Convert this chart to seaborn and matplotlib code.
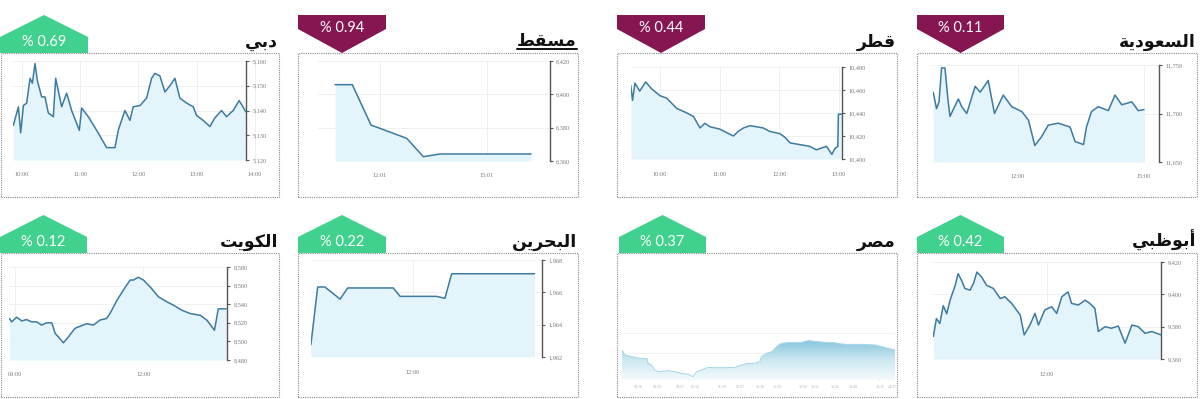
import numpy as np
import matplotlib
matplotlib.use("Agg")
import matplotlib.pyplot as plt
from matplotlib.patches import Polygon, Rectangle
from matplotlib.lines import Line2D
from matplotlib.colors import LinearSegmentedColormap
import seaborn as sns

# ---------------- data (times in decimal hours) ----------------
dubai_t = [9.857, 9.943, 9.983, 10.029, 10.086, 10.143, 10.183, 10.229, 10.269, 10.343, 10.40, 10.457,
           10.543, 10.583, 10.686, 10.771, 10.857, 10.989, 11.029, 11.143, 11.286, 11.457, 11.60, 11.657,
           11.771, 11.857, 11.914, 12.029, 12.143, 12.229, 12.286, 12.371, 12.457, 12.543, 12.629, 12.714,
           12.829, 12.943, 13.0, 13.114, 13.229, 13.314, 13.429, 13.514, 13.629, 13.731, 13.846]
dubai_v = [5134, 5141.5, 5131, 5142, 5143, 5153, 5151, 5159, 5152, 5145.5, 5145.5, 5139,
           5137.5, 5153, 5141.5, 5147, 5140, 5132, 5141, 5137.5, 5132, 5125, 5125, 5132,
           5140, 5136, 5141.5, 5142, 5145, 5153, 5155, 5154, 5147.5, 5150, 5153, 5145,
           5143, 5141.5, 5138, 5136, 5133.5, 5137, 5140, 5137.5, 5140, 5144, 5139.5]

muscat_t = [10.755, 11.240, 11.764, 12.765, 13.23, 13.70, 16.25]
muscat_v = [6405.8, 6405.8, 6381.6, 6373.6, 6362.6, 6364.2, 6364.2]

qatar_t = [9.51, 9.54, 9.58, 9.66, 9.76, 9.86, 10.0, 10.11, 10.28, 10.45, 10.56, 10.67, 10.75, 10.84,
           11.0, 11.23, 11.31, 11.40, 11.51, 11.62, 11.73, 11.84, 12.01, 12.09, 12.18, 12.29, 12.51,
           12.62, 12.79, 12.88, 12.93, 12.98, 12.99, 13.05]
qatar_v = [10464, 10451, 10466, 10459, 10467, 10461, 10455, 10453, 10444, 10440, 10437, 10427, 10431, 10428,
           10426, 10420, 10424, 10427, 10429, 10428, 10427, 10424, 10422, 10419, 10414, 10413, 10411,
           10408, 10411, 10404, 10409, 10411, 10439, 10439]

saudi_t = [9.98, 10.06, 10.12, 10.18, 10.26, 10.33, 10.38, 10.58, 10.66, 10.78, 10.98, 11.10, 11.29, 11.44,
           11.65, 11.85, 12.09, 12.25, 12.40, 12.56, 12.72, 12.96, 13.24, 13.36, 13.56, 13.63, 13.75, 13.91,
           14.15, 14.31, 14.47, 14.71, 14.86, 15.0]
saudi_v = [11722, 11705, 11712, 11747, 11747, 11715, 11697, 11715, 11707, 11700, 11728, 11722, 11734, 11700,
           11719, 11707, 11702, 11693, 11667, 11676, 11688, 11690, 11686, 11671, 11668, 11686, 11702, 11707,
           11703, 11719, 11709, 11712, 11703, 11704]

kuwait_t = [8.87, 8.92, 9.04, 9.16, 9.27, 9.39, 9.51, 9.62, 9.74, 9.86, 9.94, 10.01, 10.13, 10.25, 10.40,
            10.56, 10.68, 10.83, 10.99, 11.14, 11.22, 11.38, 11.53, 11.69, 11.77, 11.88, 12.0, 12.16, 12.35,
            12.55, 12.70, 12.90, 13.09, 13.33, 13.48, 13.66, 13.75, 13.93]
kuwait_v = [8524.6, 8521, 8526, 8522, 8523.5, 8521, 8521, 8517.5, 8520, 8520, 8508.5, 8505, 8498.5, 8505, 8514,
            8517, 8519, 8517.5, 8523, 8524.6, 8530, 8544, 8555, 8566, 8566, 8569, 8566, 8558.5, 8548,
            8542.5, 8539, 8533.5, 8530, 8528, 8523, 8512, 8535, 8535]

bahrain_t = [9.56, 9.73, 9.91, 10.29, 10.48, 11.62, 11.79, 12.70, 12.91, 13.08, 15.15]
bahrain_v = [1962.76, 1966.33, 1966.33, 1965.58, 1966.27, 1966.27, 1965.75, 1965.75, 1965.63, 1967.15, 1967.15]

egypt_t = [10.00, 10.05, 10.16, 10.30, 10.41, 10.43, 10.49, 10.54, 10.60, 10.76, 10.87, 10.98, 11.09, 11.17,
           11.23, 11.31, 11.42, 11.53, 11.70, 11.86, 11.97, 12.08, 12.19, 12.27, 12.30, 12.38, 12.47, 12.58,
           12.63, 12.74, 12.96, 13.07, 13.18, 13.40, 13.51, 13.62, 13.73, 13.95, 14.17, 14.28, 14.39, 14.50]
egypt_v = [30060, 29960, 29927, 29893, 29893, 29793, 29760, 29660, 29627, 29647, 29627, 29593, 29573, 29527,
           29627, 29660, 29713, 29707, 29707, 29713, 29760, 29793, 29793, 29827, 29927, 29993, 30027, 30160,
           30193, 30207, 30213, 30247, 30233, 30207, 30207, 30180, 30173, 30173, 30160, 30127, 30093, 30060]

abudhabi_t = [10.006, 10.06, 10.12, 10.18, 10.24, 10.30, 10.39, 10.44, 10.50, 10.56, 10.65, 10.71, 10.77,
              10.85, 10.94, 11.06, 11.18, 11.26, 11.38, 11.53, 11.60, 11.70, 11.79, 11.85, 11.96, 12.08,
              12.17, 12.26, 12.37, 12.43, 12.55, 12.67, 12.75, 12.84, 12.90, 13.02, 13.13, 13.25, 13.37,
              13.49, 13.60, 13.72, 13.84, 14.0]
abudhabi_v = [9373.9, 9385, 9382, 9393, 9388, 9396.4, 9405.6, 9412.8, 9408.7, 9403.6, 9402.6, 9406.7, 9413.8,
              9410.8, 9405.6, 9403.6, 9397.4, 9398.5, 9394.4, 9387.2, 9374.9, 9381, 9388.2, 9381, 9390.3, 9392.3,
              9388.2, 9398.5, 9401.5, 9394.4, 9393.4, 9396.4, 9394.4, 9391.3, 9377, 9380, 9379, 9380.4, 9369.8,
              9381, 9380, 9375.9, 9377, 9374.9]

# market titles (Arabic, shaped presentation forms in visual order)
titles = {
    "dubai": "\uFEF2\uFE91\uFEA9",                                   # دبي
    "muscat": "\uFEC2\uFED8\uFEB4\uFEE3",                            # مسقط
    "qatar": "\uFEAE\uFEC4\uFED7",                                   # قطر
    "saudi": "\uFE94\uFEF3\uFEA9\uFEEE\uFECC\uFEB4\uFEDF\uFE8D",     # السعودية
    "kuwait": "\uFE96\uFEF3\uFEEE\uFEDC\uFEDF\uFE8D",                # الكويت
    "bahrain": "\uFEE6\uFEF3\uFEAE\uFEA4\uFE92\uFEDF\uFE8D",         # البحرين
    "egypt": "\uFEAE\uFEBC\uFEE3",                                   # مصر
    "abudhabi": "\uFEF2\uFE92\uFEC7\uFEEE\uFE91\uFE83",              # أبوظبي
}
changes = {"dubai": "% 0.69", "muscat": "% 0.94", "qatar": "% 0.44", "saudi": "% 0.11",
           "kuwait": "% 0.12", "bahrain": "% 0.22", "egypt": "% 0.37", "abudhabi": "% 0.42"}
direction = {"dubai": "up", "muscat": "down", "qatar": "down", "saudi": "down",
             "kuwait": "up", "bahrain": "up", "egypt": "up", "abudhabi": "up"}

# tick labels
dubai_xt, dubai_xl = [10, 11, 12, 13, 14], ["10:00", "11:00", "12:00", "13:00", "14:00"]
dubai_yt = [5120, 5130, 5140, 5150, 5160]
muscat_xt, muscat_xl = [12.0167, 15.0167], ["12:01", "15:01"]
muscat_yt = [6360, 6380, 6400, 6420]
qatar_xt, qatar_xl = [10, 11, 12, 13], ["10:00", "11:00", "12:00", "13:00"]
qatar_yt = [10400, 10420, 10440, 10460, 10480]
saudi_xt, saudi_xl = [12, 15], ["12:00", "15:00"]
saudi_yt = [11650, 11700, 11750]
kuwait_xt, kuwait_xl = [9, 12], ["09:00", "12:00"]
kuwait_yt = [8480, 8500, 8520, 8540, 8560, 8580]
bahrain_xt, bahrain_xl = [12.1], ["12:06"]
bahrain_yt = [1962, 1964, 1966, 1968]
egypt_xt = [10.26, 10.58, 10.96, 11.2, 11.65, 11.94, 12.27, 12.55, 12.98, 13.18, 13.51, 13.81, 14.25, 14.45]
egypt_xl = ["10:16", "10:35", "10:57", "11:12", "11:39", "11:57", "12:16", "12:33", "12:59", "13:11",
            "13:31", "13:49", "14:15", "14:27"]
egypt_yt = [29500, 30000, 30400]
egypt_yl = ["29,500", "30,000", ""]
abudhabi_xt, abudhabi_xl = [12], ["12:00"]
abudhabi_yt = [9360, 9380, 9400, 9420]

# ---------------- styling / layout ----------------
sns.set_theme(style="white")
plt.rcParams['font.family'] = ['DejaVu Sans']

W, H = 1200, 399
fig = plt.figure(figsize=(12, 3.99), dpi=100)


def fx(px):
    return px / W


def fy(py):
    return 1 - py / H


GREEN = "#3fd18d"
MAROON = "#861651"
LINE = "#3b7aa1"
FILL = "#e3f5fa"
GRID = "#ececec"
AXC = "#555555"
TICKC = "#777777"

layout = {
    "dubai":    dict(bx=(1, 279), row=0, bg=(0, 88), ax=(13, 61, 256, 160), xlim=(9.851, 14.02), ylim=(5120, 5160), spine=13.847),
    "muscat":   dict(bx=(298, 578), row=0, bg=(298, 386), ax=(318, 61, 550, 161), xlim=(10.278, 16.783), ylim=(6360, 6420), spine=None),
    "qatar":    dict(bx=(617, 897), row=0, bg=(617, 705), ax=(631, 67, 842, 159), xlim=(9.514, 13.05), ylim=(10400, 10480), spine=None),
    "saudi":    dict(bx=(917, 1197), row=0, bg=(917, 1004), ax=(933, 65, 1159, 162), xlim=(9.976, 15.357), ylim=(11650, 11750), spine=None),
    "kuwait":   dict(bx=(1, 279), row=1, bg=(0, 87), ax=(9, 267, 227, 360), xlim=(8.86, 13.953), ylim=(8480, 8580), spine=None),
    "bahrain":  dict(bx=(298, 578), row=1, bg=(298, 386), ax=(311, 260, 542, 357), xlim=(9.5625, 15.3375), ylim=(1962, 1968), spine=None),
    "egypt":    dict(bx=(617, 897), row=1, bg=(619, 706), ax=(622, 333, 895, 380.5), xlim=(10.0, 14.5), ylim=(29450, 30400), spine=None),
    "abudhabi": dict(bx=(917, 1197), row=1, bg=(917, 1004), ax=(933, 262, 1161, 359), xlim=(10.0, 14.0), ylim=(9360, 9420), spine=None),
}

series = {
    "dubai": (dubai_t, dubai_v, dubai_xt, dubai_xl, dubai_yt, None),
    "muscat": (muscat_t, muscat_v, muscat_xt, muscat_xl, muscat_yt, None),
    "qatar": (qatar_t, qatar_v, qatar_xt, qatar_xl, qatar_yt, None),
    "saudi": (saudi_t, saudi_v, saudi_xt, saudi_xl, saudi_yt, None),
    "kuwait": (kuwait_t, kuwait_v, kuwait_xt, kuwait_xl, kuwait_yt, None),
    "bahrain": (bahrain_t, bahrain_v, bahrain_xt, bahrain_xl, bahrain_yt, None),
    "egypt": (egypt_t, egypt_v, egypt_xt, egypt_xl, egypt_yt, egypt_yl),
    "abudhabi": (abudhabi_t, abudhabi_v, abudhabi_xt, abudhabi_xl, abudhabi_yt, None),
}

title_artists = {}
for key, L in layout.items():
    row_off = 0 if L["row"] == 0 else 200
    bx0, bx1 = L["bx"]
    # dotted frame
    fig.patches.append(Rectangle((fx(bx0), fy(197 + row_off)), fx(bx1) - fx(bx0), fy(53 + row_off) - fy(197 + row_off),
                                 transform=fig.transFigure, fill=False, edgecolor="#8a8a8a",
                                 linestyle=(0, (1, 1)), linewidth=0.8, zorder=1))
    # badge
    g0, g1 = L["bg"]
    gc = (g0 + g1) / 2
    if direction[key] == "up":
        pts = [(g0, 53), (g1, 53), (g1, 37), (gc, 15), (g0, 37)]
        col = GREEN
        ty = 42
    else:
        pts = [(g0, 15), (g1, 15), (g1, 29), (gc, 53), (g0, 29)]
        col = MAROON
        ty = 28
    pts = [(fx(a), fy(b + row_off)) for a, b in pts]
    fig.patches.append(Polygon(pts, closed=True, transform=fig.transFigure, facecolor=col,
                               edgecolor="none", zorder=2))
    fig.text(fx(gc), fy(ty + row_off), changes[key], color="white", fontsize=10.5,
             family=["Lato", "DejaVu Sans"], ha="center", va="center", zorder=3)
    # title
    title_artists[key] = fig.text(fx(bx1 - 1), fy(46.5 + row_off), titles[key], color="#111111",
                                  fontsize=12.5, fontweight="bold", family=["DejaVu Sans"],
                                  ha="right", va="baseline")

    # axes
    l, t, r, b = L["ax"]
    ax = fig.add_axes([fx(l), fy(b), fx(r) - fx(l), fy(t) - fy(b)])
    ax.set_facecolor("none")
    tt, vv, xt, xl, yt, yl = series[key]
    tt = np.asarray(tt)
    vv = np.asarray(vv)
    y0 = L["ylim"][0]

    if key == "egypt":
        poly = ax.fill_between(tt, vv, y0, color="none", lw=0)
        cmap = LinearSegmentedColormap.from_list("eg", ["#f4fafc", "#cde8f1", "#86c4dc"])
        grad = np.linspace(0, 1, 256).reshape(-1, 1)
        img = ax.imshow(grad, extent=[tt.min(), tt.max(), y0, vv.max()], origin="lower",
                        aspect="auto", cmap=cmap, zorder=1)
        img.set_clip_path(poly.get_paths()[0], ax.transData)
        sns.lineplot(x=tt, y=vv, ax=ax, color="#a6d6e8", lw=0.7, zorder=3)
    else:
        ax.fill_between(tt, vv, y0, color=FILL, lw=0, zorder=1)
        sns.lineplot(x=tt, y=vv, ax=ax, color=LINE, lw=1.1, zorder=3)

    ax.set_xlim(*L["xlim"])
    ax.set_ylim(*L["ylim"])
    ax.set_xlabel("")
    ax.set_ylabel("")

    for s in ["top", "left", "bottom"]:
        ax.spines[s].set_visible(False)
    ax.yaxis.tick_right()
    ax.set_yticks(yt)
    if yl is None:
        yl = [f"{v:,}" for v in yt]
    ax.set_yticklabels(yl)
    ax.set_xticks(xt)
    ax.set_xticklabels(xl)

    if key == "egypt":
        ax.spines["right"].set_visible(False)
        ax.tick_params(axis="y", length=0, labelsize=2.8, labelcolor="#aaaaaa", pad=-14)
        ax.tick_params(axis="x", length=0, labelsize=2.8, labelcolor="#aaaaaa", pad=3)
        ax.grid(axis="y", color="#f0f0f0", lw=0.6)
        ax.grid(axis="x", visible=False)
    else:
        ax.spines["right"].set_color(AXC)
        ax.spines["right"].set_linewidth(1.0)
        if L["spine"] is not None:
            ax.spines["right"].set_position(("data", L["spine"]))
        ax.tick_params(axis="y", direction="out", length=2.5, width=0.8, color=AXC,
                       labelsize=4.5, labelcolor=TICKC, pad=2)
        ax.tick_params(axis="x", length=0, labelsize=4.5, labelcolor=TICKC, pad=9)
        ax.grid(True, color=GRID, lw=0.6)
    for lab in ax.get_xticklabels() + ax.get_yticklabels():
        lab.set_family(["Liberation Serif", "DejaVu Serif"])
    ax.set_axisbelow(True)

# underline under the Muscat title, sized from the rendered text
fig.canvas.draw()
bb = title_artists["muscat"].get_window_extent(renderer=fig.canvas.get_renderer())
fig.add_artist(Line2D([bb.x0 / W, bb.x1 / W], [fy(48.5), fy(48.5)], color="#111111", lw=1.4,
                      transform=fig.transFigure))

fig.savefig("out.png", dpi=100, facecolor="white")
